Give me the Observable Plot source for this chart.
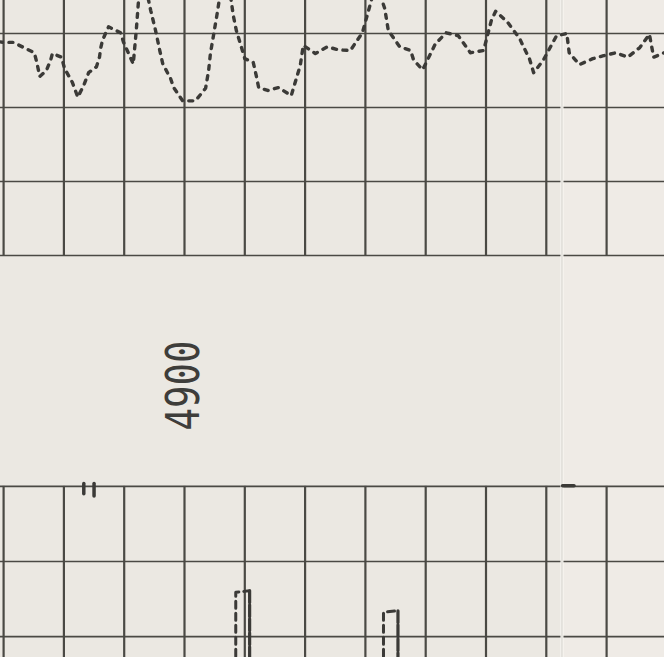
<!DOCTYPE html>
<html><head><meta charset="utf-8">
<script src="https://cdn.jsdelivr.net/npm/d3@7"></script>
<script src="https://cdn.jsdelivr.net/npm/@observablehq/plot@0.6"></script>
<style>
html,body{margin:0;padding:0;background:#ebe8e2;}
#chart{width:664px;height:657px;overflow:hidden;}
#chart svg{display:block;}
</style></head><body><div id="chart"></div>
<script>
// depth grid (ft) and track grid values
const depthTicks = [4870,4880,4890,4900,4910,4920,4930,4940,4950,4960,4970,4980];
const topTrackLines = [0,1,2,3];
const bottomTrackLines = [-3.12,-4.135,-5.15];
const topTrackRange = [0, 3.446];
const bottomTrackRange = [-3.12, -5.432];
const foldDepth = 4962.6;
const depthLabel = [{depth: 4900, value: -1.757, text: "4900"}];

// upper curve
const topDepth = [4869.15,4870.0,4871.6,4873.6,4875.1,4875.5,4876.0,4877.1,4877.8,4878.1,4879.6,4880.1,4881.4,4882.3,4883.3,4884.1,4885.4,4885.9,4886.1,4886.4,4887.4,4889.4,4889.9,4891.5,4892.0,4892.5,4893.7,4894.4,4895.2,4895.9,4896.4,4897.7,4898.2,4899.7,4901.8,4903.5,4904.0,4904.3,4904.8,4905.5,4906.0,4907.5,4908.1,4908.6,4909.6,4910.0,4911.4,4911.9,4912.3,4913.8,4915.6,4917.7,4919.2,4919.7,4921.7,4923.7,4925.5,4927.5,4929.5,4931.2,4932.5,4933.2,4933.8,4935.7,4937.5,4938.0,4939.5,4941.6,4943.4,4945.4,4947.4,4949.6,4950.9,4951.6,4953.6,4955.6,4956.1,4957.2,4957.9,4959.5,4961.7,4963.4,4963.8,4965.5,4967.7,4969.5,4971.5,4973.5,4975.5,4977.1,4977.8,4979.3,4980.3];
const topValue = [2.89,2.88,2.88,2.80,2.74,2.61,2.42,2.50,2.64,2.73,2.68,2.53,2.34,2.14,2.30,2.47,2.55,2.68,2.80,2.91,3.09,3.01,2.88,2.59,3.04,3.58,3.58,3.31,3.04,2.77,2.59,2.39,2.27,2.09,2.09,2.26,2.50,2.73,2.97,3.31,3.58,3.58,3.24,3.04,2.77,2.66,2.61,2.43,2.27,2.23,2.27,2.16,2.57,2.84,2.73,2.82,2.78,2.77,3.01,3.51,3.51,3.34,3.04,2.82,2.77,2.64,2.51,2.86,3.01,2.97,2.74,2.77,3.18,3.30,3.15,2.93,2.84,2.66,2.47,2.64,2.97,3.00,2.74,2.58,2.66,2.70,2.74,2.68,2.81,2.99,2.68,2.73,2.77];

// lower curve pieces: dashed legs, dense legs, short solid marks
const bottomSeries = ["a","a","a","a2","a2","b","b","b","b2","b2","c","c","c2","c2","d","d"];
const bottomDepth = [4908.5,4908.5,4910.8,4910.8,4910.8,4933.0,4933.0,4935.4,4935.4,4935.4,4883.3,4883.3,4885.0,4885.0,4962.7,4964.6];
const bottomValue = [-5.9,-4.55,-4.53,-4.53,-5.9,-5.9,-4.82,-4.80,-4.80,-5.9,-3.08,-3.22,-3.08,-3.25,-3.11,-3.11];
const dashedPieces = ["a","b"];
const densePieces = ["a2","b2"];
const solidPieces = ["c","c2","d"];

const topCurve = topDepth.map((d,i)=>({depth:d, value:topValue[i]}));
const bottomCurve = bottomDepth.map((d,i)=>({depth:d, value:bottomValue[i], s:bottomSeries[i]}));

const ink = "#3b3a37";
const gridInk = "#4a4944";

const chart = Plot.plot({
  width: 664, height: 657,
  marginTop: 0, marginRight: 0, marginBottom: 0, marginLeft: 0,
  x: {domain: [4869.486, 4979.602], axis: null},
  y: {domain: [-5.432, 3.446], axis: null},
  style: {background: "transparent", overflow: "hidden"},
  marks: [
    Plot.rect([{x1: foldDepth, x2: 4979.602}], {x1:"x1", x2:"x2", y1:-5.432, y2:3.446, fill:"#efebe6"}),
    Plot.ruleY(topTrackLines, {stroke: gridInk, strokeWidth: 1.6}),
    Plot.ruleY(bottomTrackLines, {stroke: gridInk, strokeWidth: 1.6}),
    Plot.ruleX(depthTicks, {y1: topTrackRange[0], y2: topTrackRange[1], stroke: gridInk, strokeWidth: 2.2}),
    Plot.ruleX(depthTicks, {y1: bottomTrackRange[0], y2: bottomTrackRange[1], stroke: gridInk, strokeWidth: 2.2}),
    Plot.ruleX([foldDepth], {stroke: "#faf8f5", strokeWidth: 3}),
    Plot.ruleX([foldDepth], {stroke: "#b3aea6", strokeWidth: 0.6}),
    Plot.line(topCurve, {x: "depth", y: "value", stroke: ink, strokeWidth: 3.4, strokeDasharray: "4,6.5", clip: true}),
    Plot.line(bottomCurve.filter(d => dashedPieces.includes(d.s)), {x: "depth", y: "value", z: "s", stroke: ink, strokeWidth: 3, strokeDasharray: "7,5", clip: true}),
    Plot.line(bottomCurve.filter(d => densePieces.includes(d.s)), {x: "depth", y: "value", z: "s", stroke: ink, strokeWidth: 3.2, strokeDasharray: "12,2", clip: true}),
    Plot.line(bottomCurve.filter(d => solidPieces.includes(d.s)), {x: "depth", y: "value", z: "s", stroke: ink, strokeWidth: 3.5, clip: true}),
    Plot.text(depthLabel, {x: "depth", y: "value", text: "text", rotate: -90, fontSize: 46, fontFamily: "DejaVu Sans Mono", fill: "#3e3d3a", textAnchor: "middle", lineAnchor: "middle", fontWeight: 300})
  ]
});
document.getElementById("chart").appendChild(chart);
// compress the plotter-style label to its narrow width
chart.querySelectorAll("text").forEach(t => {
  if (t.textContent === "4900") { t.setAttribute("textLength", 90); t.setAttribute("lengthAdjust", "spacingAndGlyphs"); }
});
</script></body></html>
